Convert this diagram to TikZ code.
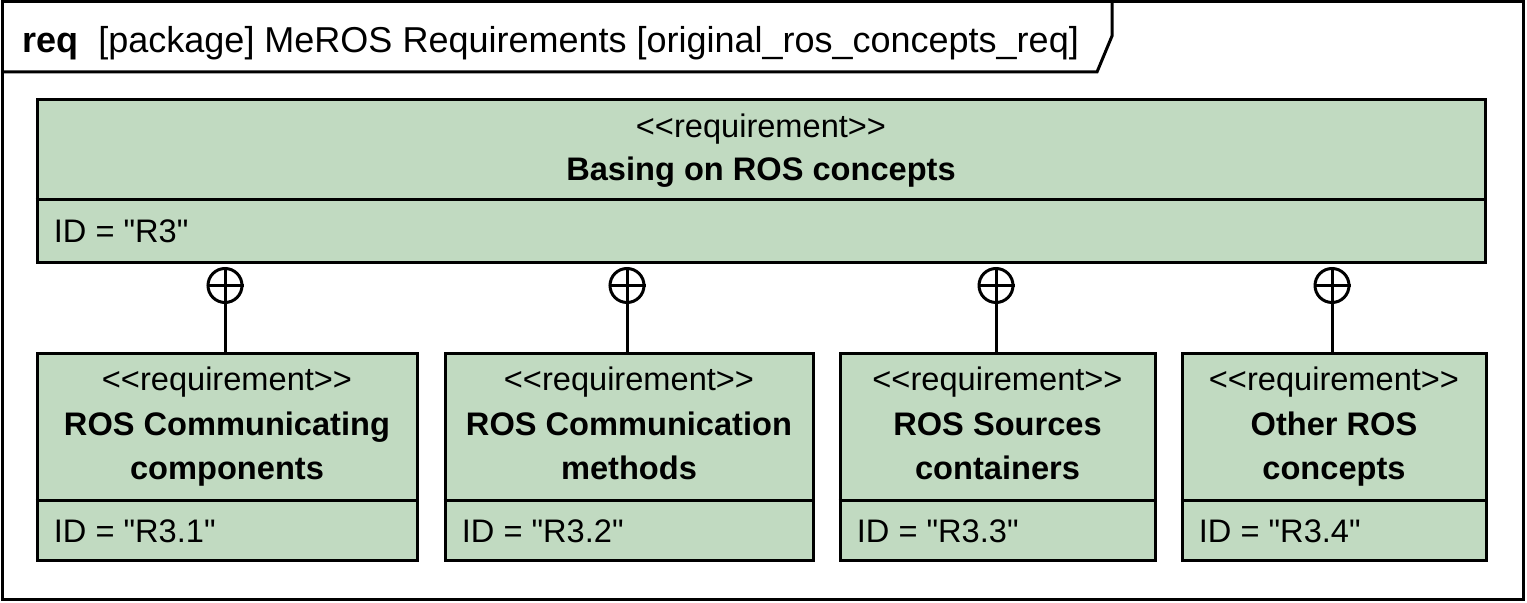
\documentclass[tikz,border=0pt]{standalone}
\usepackage{fontspec}
\setmainfont{Liberation Sans}[Ligatures=TeXOff]
\usetikzlibrary{positioning}
\definecolor{reqgreen}{RGB}{193,218,193}
\newcommand{\stereo}[1]{<\kern0pt<#1>\kern0pt>}

\begin{document}
\begin{tikzpicture}[
    x=1pt, y=-1pt,
    every node/.style={font=\fontsize{16.3}{22}\selectfont, inner sep=0pt},
    frame/.style={draw=black, line width=1.5pt},
    req/.style={rectangle, draw=black, fill=reqgreen, line width=1.5pt,
        inner sep=0pt},
    st/.style={anchor=base},
    rname/.style={font=\fontsize{16.3}{22}\selectfont\bfseries, align=center},
    attr/.style={anchor=base west},
    contain/.style={circle, draw=black, line width=1.5pt, inner sep=0pt,
        minimum size=17pt},
    cline/.style={draw=black, line width=1.5pt},
]
\useasboundingbox (0,0) rectangle (763.5,301.5);

% ====== FRAME ======
\draw[frame] (1,1) rectangle (761.5,300);
\draw[frame] (1,36) -- (548.5,36) -- (556,18) -- (556,1);
\node[anchor=base west, font=\fontsize{18}{22}\selectfont] (title) at (11,26.5)
    {\textbf{req}\ \ [package] MeROS Requirements [original\_ros\_concepts\_req]};

% ====== TOP REQUIREMENT ======
\node[req, minimum width=724pt, minimum height=81.75pt] (top) at (380.5,90.6) {};
\draw[frame] ([yshift=32.5pt]top.south west) -- ([yshift=32.5pt]top.south east);
\node[st] (top-st) at ([yshift=-19.75pt]top.north) {\stereo{requirement}};
\node[st, rname] (top-name) at ([yshift=-41.5pt]top.north) {Basing on ROS concepts};
\node[attr] (top-id) at ([xshift=9pt, yshift=10.75pt]top.south west) {ID = "R3"};

% ====== SUB REQUIREMENTS ======
\node[req, minimum width=190pt, minimum height=103.75pt] (r1) at (113.5,228.6) {};
\node[req, minimum width=184pt, minimum height=103.75pt] (r2) at (314.5,228.6) {};
\node[req, minimum width=157.5pt, minimum height=103.75pt] (r3) at (498.75,228.6) {};
\node[req, minimum width=152pt, minimum height=103.75pt] (r4) at (667,228.6) {};

\node[st] (r1-st) at ([yshift=-19.5pt]r1.north) {\stereo{requirement}};
\node[st] (r2-st) at ([yshift=-19.5pt]r2.north) {\stereo{requirement}};
\node[st] (r3-st) at ([yshift=-19.5pt]r3.north) {\stereo{requirement}};
\node[st] (r4-st) at ([yshift=-19.5pt]r4.north) {\stereo{requirement}};

\node[rname, anchor=north] (r1-name) at ([yshift=-30pt]r1.north)
    {ROS Communicating\\components};
\node[rname, anchor=north] (r2-name) at ([yshift=-30pt]r2.north)
    {ROS Communication\\methods};
\node[rname, anchor=north] (r3-name) at ([yshift=-30pt]r3.north)
    {ROS Sources\\containers};
\node[rname, anchor=north] (r4-name) at ([yshift=-30pt]r4.north)
    {Other ROS\\concepts};

\node[attr] (r1-id) at ([xshift=9pt, yshift=10pt]r1.south west) {ID = "R3.1"};
\node[attr] (r2-id) at ([xshift=9pt, yshift=10pt]r2.south west) {ID = "R3.2"};
\node[attr] (r3-id) at ([xshift=9pt, yshift=10pt]r3.south west) {ID = "R3.3"};
\node[attr] (r4-id) at ([xshift=9pt, yshift=10pt]r4.south west) {ID = "R3.4"};

\foreach \r in {r1, r2, r3, r4}
    \draw[frame] ([yshift=31pt]\r.south west) -- ([yshift=31pt]\r.south east);

% ====== CONTAINMENT ======
\node[contain, anchor=north] (c1) at (112.5,133.5) {};
\node[contain, anchor=north] (c2) at (313.5,133.5) {};
\node[contain, anchor=north] (c3) at (498,133.5) {};
\node[contain, anchor=north] (c4) at (666,133.5) {};

\foreach \c/\r in {c1/r1, c2/r2, c3/r3, c4/r4} {
    \draw[cline] (\c.west) -- (\c.east);
    \draw[cline] (\c.north) -- (\c.north |- \r.north);
}

\end{tikzpicture}
\end{document}
